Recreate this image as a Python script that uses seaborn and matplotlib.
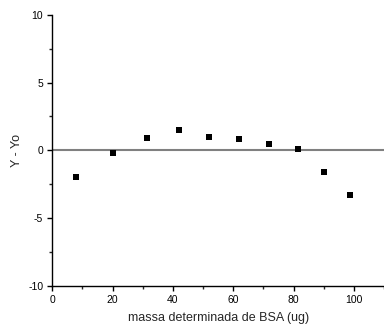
import matplotlib
matplotlib.use("Agg")
import matplotlib.pyplot as plt
from matplotlib.ticker import MultipleLocator
import seaborn as sns
import pandas as pd

# residuos da curva de calibracao
massa = [7.9, 20.0, 31.3, 42.1, 51.9, 61.8, 71.8, 81.6, 90.0, 98.6]
residuo = [-1.98, -0.18, 0.92, 1.52, 0.98, 0.83, 0.45, 0.09, -1.64, -3.29]

sns.set_style("ticks")
plt.rcParams["font.family"] = ["Liberation Sans", "DejaVu Sans"]
plt.rcParams["axes.unicode_minus"] = False

df = pd.DataFrame({"massa": massa, "residuo": residuo})

fig = plt.figure(figsize=(3.84, 3.27), dpi=100)
ax = fig.add_axes([0.136, 0.1266, 0.864, 0.8275])

ax.axhline(0, color="#808080", lw=1.5, zorder=1)
sns.scatterplot(data=df, x="massa", y="residuo", marker="s", s=13,
                color="black", edgecolor="black", linewidth=0, ax=ax, zorder=3)

ax.set_xlim(0, 110)
ax.set_ylim(-10, 10)
ax.xaxis.set_major_locator(MultipleLocator(20))
ax.xaxis.set_minor_locator(MultipleLocator(10))
ax.yaxis.set_major_locator(MultipleLocator(5))
ax.yaxis.set_minor_locator(MultipleLocator(2.5))
ax.tick_params(which="major", direction="out", length=3.5, width=1, pad=3,
               labelsize=7.5, colors="black")
ax.tick_params(which="minor", direction="out", length=2, width=1)

ax.set_xlabel("massa determinada de BSA (ug)", fontsize=9, labelpad=5)
ax.set_ylabel("Y - Yo", fontsize=9, labelpad=4)

sns.despine(ax=ax)
for sp in ["left", "bottom"]:
    ax.spines[sp].set_linewidth(1)
    ax.spines[sp].set_color("black")

fig.savefig("out.png", dpi=100)
